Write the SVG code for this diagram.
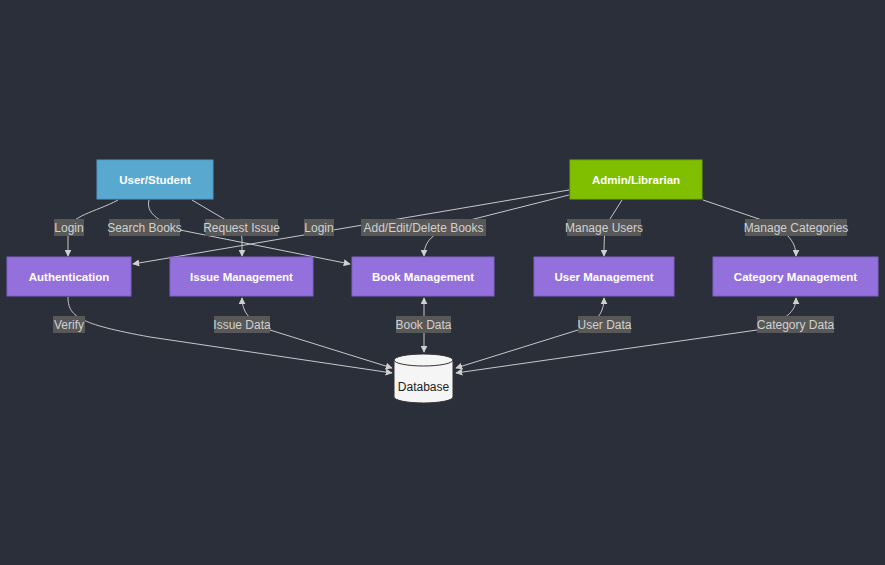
<svg xmlns="http://www.w3.org/2000/svg" width="885" height="565" viewBox="0 0 885 565">
<defs>
<style>
.bg{fill:#2a2f3a}
.node text{font-family:"Liberation Sans",Arial,sans-serif;font-size:11.5px;font-weight:bold;fill:#ffffff;text-anchor:middle;dominant-baseline:central}
.proc{fill:#9370db;stroke:#8060c8;stroke-width:1}
.edge{fill:none;stroke:#c8c8c8;stroke-width:1}
.lbl rect{fill:#585858}
.lbl text{font-family:"Liberation Sans",Arial,sans-serif;font-size:12px;fill:#d0d0d0;text-anchor:middle;dominant-baseline:central}
</style>
<marker id="ah" viewBox="0 0 10 10" refX="9" refY="5" markerWidth="7" markerHeight="7" orient="auto-start-reverse" markerUnits="userSpaceOnUse">
<path d="M0,0 L10,5 L0,10 z" fill="#d0d0d0"/>
</marker>
</defs>
<rect class="bg" x="0" y="0" width="885" height="565"/>

<g id="connectors">
<path class="edge" d="M118,200 C96,212 68,216 68,232 L68,256" marker-end="url(#ah)"/>
<path class="edge" d="M149,200 C146,212 156,220 180,230 L350,264" marker-end="url(#ah)"/>
<path class="edge" d="M192,200 L224,219 C238,226 242,232 242,240 L242,256" marker-end="url(#ah)"/>
<path class="edge" d="M569,190 L133,264" marker-end="url(#ah)"/>
<path class="edge" d="M569,195 L470,220 C440,230 424,236 424,256" marker-end="url(#ah)"/>
<path class="edge" d="M622,200 L610,219 C605,226 604,232 604,256" marker-end="url(#ah)"/>
<path class="edge" d="M703,200 L762,220 C785,230 796,240 796,256" marker-end="url(#ah)"/>
<path class="edge" d="M68,297 C68,316 78,324 150,337 L392,373" marker-end="url(#ah)"/>
<path class="edge" d="M242,298 C242,312 250,322 270,330 L392,368" marker-start="url(#ah)" marker-end="url(#ah)"/>
<path class="edge" d="M424,298 L424,352" marker-start="url(#ah)" marker-end="url(#ah)"/>
<path class="edge" d="M604,298 C604,312 598,322 578,330 L456,368" marker-start="url(#ah)" marker-end="url(#ah)"/>
<path class="edge" d="M796,298 C796,312 786,320 757,330 L456,373" marker-start="url(#ah)" marker-end="url(#ah)"/>
</g>

<g id="edge-labels">
<g class="lbl"><rect x="54" y="219" width="30" height="17"/><text x="69" y="227.5">Login</text></g>
<g class="lbl"><rect x="109" y="219" width="71" height="17"/><text x="144.5" y="227.5">Search Books</text></g>
<g class="lbl"><rect x="205" y="219" width="73" height="17"/><text x="241.5" y="227.5">Request Issue</text></g>
<g class="lbl"><rect x="304" y="219" width="30" height="17"/><text x="319" y="227.5">Login</text></g>
<g class="lbl"><rect x="361" y="219" width="125" height="17"/><text x="423.5" y="227.5">Add/Edit/Delete Books</text></g>
<g class="lbl"><rect x="567" y="219" width="74" height="17"/><text x="604" y="227.5">Manage Users</text></g>
<g class="lbl"><rect x="745" y="219" width="102" height="17"/><text x="796" y="227.5">Manage Categories</text></g>
<g class="lbl"><rect x="53" y="316" width="32" height="17"/><text x="69" y="324.5">Verify</text></g>
<g class="lbl"><rect x="214" y="316" width="56" height="17"/><text x="242" y="324.5">Issue Data</text></g>
<g class="lbl"><rect x="396" y="316" width="55" height="17"/><text x="423.5" y="324.5">Book Data</text></g>
<g class="lbl"><rect x="578" y="316" width="53" height="17"/><text x="604.5" y="324.5">User Data</text></g>
<g class="lbl"><rect x="757" y="316" width="77" height="17"/><text x="795.5" y="324.5">Category Data</text></g>
</g>

<g id="user-student" class="node"><rect x="97" y="160" width="116" height="39" fill="#59a8cf" stroke="#4f9bc0"/><text x="155" y="179.5">User/Student</text></g>
<g id="admin-librarian" class="node"><rect x="570" y="160" width="132" height="39" fill="#7fbf00" stroke="#72ad00"/><text x="636" y="179.5">Admin/Librarian</text></g>
<g id="authentication" class="node"><rect class="proc" x="7" y="257" width="124" height="39"/><text x="69" y="276.5">Authentication</text></g>
<g id="issue-management" class="node"><rect class="proc" x="170" y="257" width="143" height="39"/><text x="241.5" y="276.5">Issue Management</text></g>
<g id="book-management" class="node"><rect class="proc" x="352" y="257" width="142" height="39"/><text x="423" y="276.5">Book Management</text></g>
<g id="user-management" class="node"><rect class="proc" x="534" y="257" width="140" height="39"/><text x="604" y="276.5">User Management</text></g>
<g id="category-management" class="node"><rect class="proc" x="713" y="257" width="165" height="39"/><text x="795.5" y="276.5">Category Management</text></g>
<g id="database">
<path d="M394,360 A29.5,6 0 0 1 453,360 L453,397 A29.5,6 0 0 1 394,397 Z" fill="#f5f5f5" stroke="#333333" stroke-width="1"/>
<path d="M394,360 A29.5,6 0 0 0 453,360" fill="none" stroke="#333333" stroke-width="1"/>
<text x="423.5" y="387" font-family="Liberation Sans,Arial,sans-serif" font-size="12px" fill="#222222" text-anchor="middle" dominant-baseline="central">Database</text>
</g>
</svg>
